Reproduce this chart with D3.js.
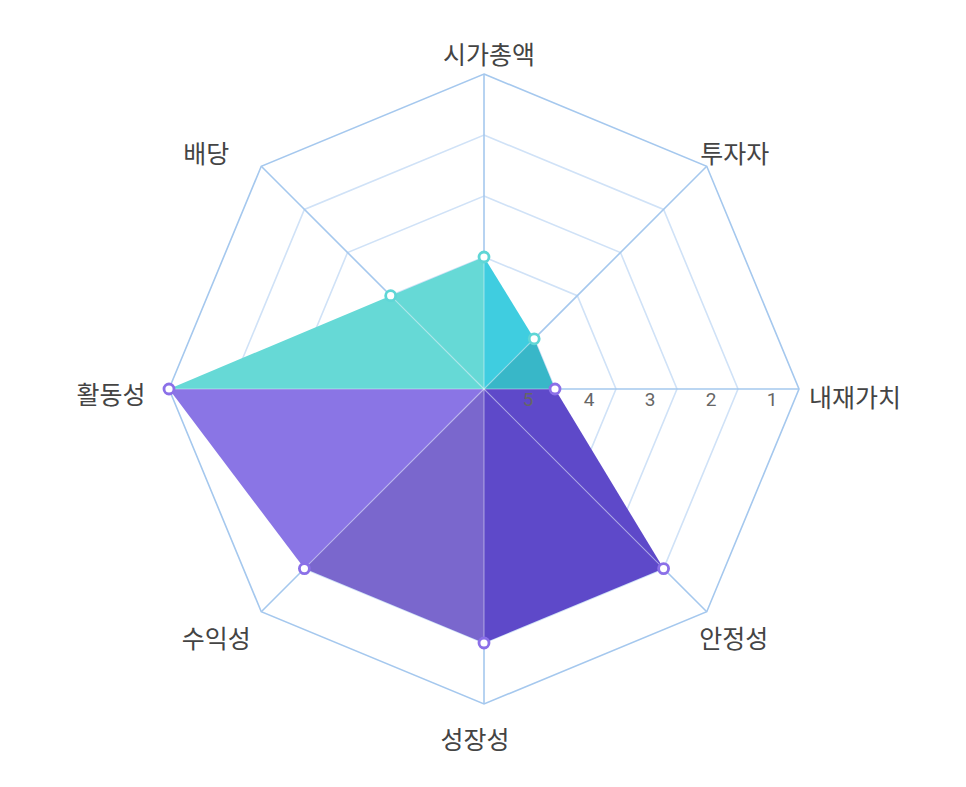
<!DOCTYPE html>
<html>
<head>
<meta charset="utf-8">
<script src="https://cdn.jsdelivr.net/npm/d3@7"></script>
<style>
body { margin: 0; background: #fff; }
</style>
</head>
<body>
<script>
// axes clockwise from the top
var axes = ["시가총액", "투자자", "내재가치", "안정성", "성장성", "수익성", "활동성", "배당"];
var scores = [4, 5, 5, 2, 2, 2, 1, 4];
var tickLabels = [1, 2, 3, 4, 5];
// fill of the slice between axis i and axis i+1
var sliceColors = ["#3fcde0", "#38b7c8", "#5e49c9", "#5e49c9", "#7a67cd", "#8a75e5", "#66d9d6", "#66d9d6"];
var pointColors = ["#5fd6d6", "#5fd6d6", "#8b70e8", "#8b70e8", "#8b70e8", "#8b70e8", "#8b70e8", "#5fd6d6"];

var width = 966, height = 787;
var cx = 484, cy = 389, R = 315;

var svg = d3.select("body").append("svg")
    .attr("width", width)
    .attr("height", height);

// 1 is the outer ring, 5 sits near the middle
var rScale = d3.scaleLinear().domain([1, 5]).range([R, 71]);
var angle = d3.scalePoint().domain(d3.range(axes.length)).range([0, 2 * Math.PI * (axes.length - 1) / axes.length]);

function pt(i, r) {
    var a = angle(i);
    return [cx + r * Math.sin(a), cy - r * Math.cos(a)];
}

// grid rings
svg.append("g").selectAll("polygon")
    .data(tickLabels.slice().reverse())
    .enter()
    .append("polygon")
    .attr("points", function(t) {
        return axes.map(function(d, i) { return pt(i, rScale(t)).join(","); }).join(" ");
    })
    .attr("fill", "none")
    .attr("stroke", function(t) { return t == 1 ? "#a5c8ee" : "#d0e2f7"; })
    .attr("stroke-width", 1.6);

// axis lines
svg.append("g").selectAll("line")
    .data(axes)
    .enter()
    .append("line")
    .attr("x1", cx).attr("y1", cy)
    .attr("x2", function(d, i) { return pt(i, R)[0]; })
    .attr("y2", function(d, i) { return pt(i, R)[1]; })
    .attr("stroke", "#a5c8ee")
    .attr("stroke-width", 1.6);

// coloured slices
svg.append("g").selectAll("polygon")
    .data(scores)
    .enter()
    .append("polygon")
    .attr("points", function(d, i) {
        var j = (i + 1) % scores.length;
        return [[cx, cy], pt(i, rScale(d)), pt(j, rScale(scores[j]))].map(function(p) { return p.join(","); }).join(" ");
    })
    .attr("fill", function(d, i) { return sliceColors[i]; });

// light spokes over the fill
svg.append("g").selectAll("line")
    .data(scores)
    .enter()
    .append("line")
    .attr("x1", cx).attr("y1", cy)
    .attr("x2", function(d, i) { return pt(i, rScale(d))[0]; })
    .attr("y2", function(d, i) { return pt(i, rScale(d))[1]; })
    .attr("stroke", "rgba(255,255,255,0.4)")
    .attr("stroke-width", 1.2);

// tick labels along the right axis
svg.append("g").selectAll("text")
    .data(tickLabels)
    .enter()
    .append("text")
    .attr("x", function(t) { return cx + rScale(t) - 27; })
    .attr("y", cy + 10)
    .attr("text-anchor", "middle")
    .attr("dominant-baseline", "central")
    .attr("font-family", "Roboto, 'Noto Sans', sans-serif")
    .attr("font-size", 19)
    .attr("fill", "#666")
    .text(function(t) { return t; });

// points
svg.append("g").selectAll("circle")
    .data(scores)
    .enter()
    .append("circle")
    .attr("cx", function(d, i) { return pt(i, rScale(d))[0]; })
    .attr("cy", function(d, i) { return pt(i, rScale(d))[1]; })
    .attr("r", 5)
    .attr("fill", "#fff")
    .attr("stroke", function(d, i) { return pointColors[i]; })
    .attr("stroke-width", 2.8);

// axis names, nudged off the outer vertex
var nudge = [[5, -21], [28, -14], [56, 7], [27, 25], [-9, 34], [-45, 25], [-58, 4], [-55, -14]];
svg.append("g").selectAll("text")
    .data(axes)
    .enter()
    .append("text")
    .attr("x", function(d, i) { return pt(i, R)[0] + nudge[i][0]; })
    .attr("y", function(d, i) { return pt(i, R)[1] + nudge[i][1]; })
    .attr("text-anchor", "middle")
    .attr("dominant-baseline", "central")
    .attr("font-family", "'Noto Sans CJK KR', 'Noto Sans', sans-serif")
    .attr("font-size", 25)
    .attr("fill", "#444")
    .text(function(d) { return d; });
</script>
</body>
</html>
